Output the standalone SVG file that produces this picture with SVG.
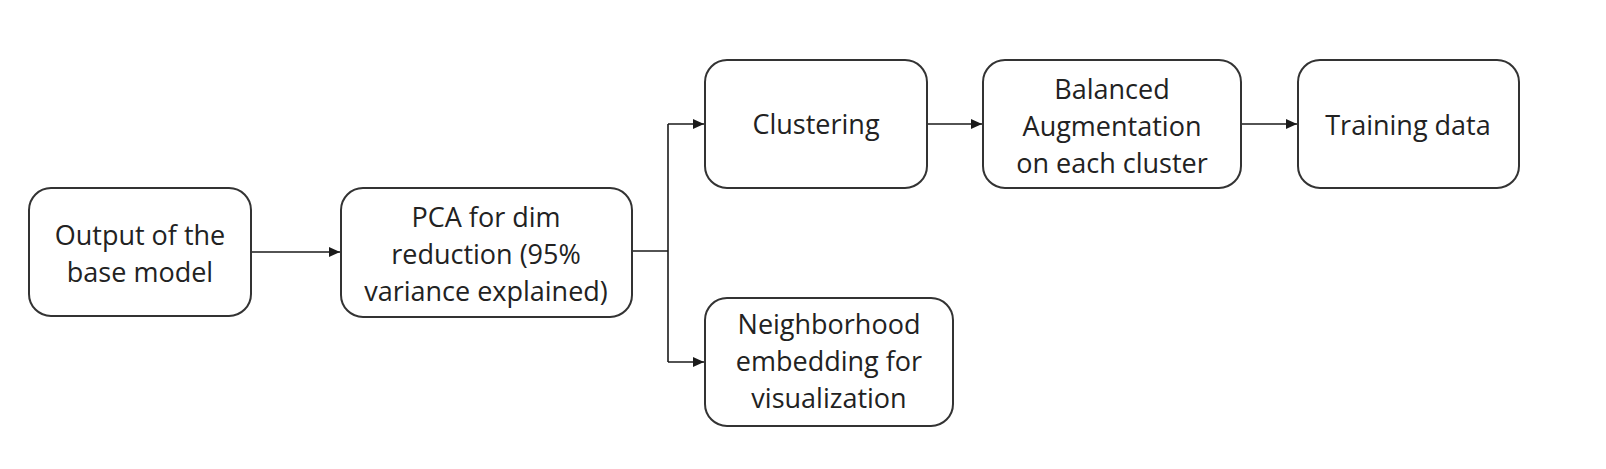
<svg xmlns="http://www.w3.org/2000/svg" width="1606" height="469" viewBox="0 0 1606 469">
<defs>
<marker id="arr" markerWidth="12" markerHeight="10" refX="11" refY="5" orient="auto" markerUnits="userSpaceOnUse">
<path d="M0,0 L11,5 L0,10 Z" fill="#1a1a1a"/>
</marker>
<style>
.box{fill:#fff;stroke:#333;stroke-width:2}
.t{font-family:"Open Sans","Noto Sans",sans-serif;font-size:27px;fill:#222;text-anchor:middle}
.c{fill:none;stroke:#1a1a1a;stroke-width:1.6}
</style>
</defs>
<rect width="1606" height="469" fill="#fff"/>
<g id="connectors">
<line class="c" x1="252" y1="252" x2="340" y2="252" marker-end="url(#arr)"/>
<line class="c" x1="632" y1="251" x2="668" y2="251"/>
<polyline class="c" points="668,124 668,362"/>
<line class="c" x1="668" y1="124" x2="704" y2="124" marker-end="url(#arr)"/>
<line class="c" x1="668" y1="362" x2="704" y2="362" marker-end="url(#arr)"/>
<line class="c" x1="927" y1="124" x2="982" y2="124" marker-end="url(#arr)"/>
<line class="c" x1="1241" y1="124" x2="1297" y2="124" marker-end="url(#arr)"/>
</g>
<g id="n1">
<rect class="box" x="29" y="188" width="222" height="128" rx="22"/>
<text class="t" x="140" y="245">Output of the</text>
<text class="t" x="140" y="282">base model</text>
</g>
<g id="n2">
<rect class="box" x="341" y="188" width="291" height="129" rx="22"/>
<text class="t" x="486" y="227">PCA for dim</text>
<text class="t" x="486" y="264">reduction (95%</text>
<text class="t" x="486" y="301">variance explained)</text>
</g>
<g id="n3">
<rect class="box" x="705" y="60" width="222" height="128" rx="22"/>
<text class="t" x="816" y="134">Clustering</text>
</g>
<g id="n4">
<rect class="box" x="983" y="60" width="258" height="128" rx="22"/>
<text class="t" x="1112" y="99">Balanced</text>
<text class="t" x="1112" y="136">Augmentation</text>
<text class="t" x="1112" y="173">on each cluster</text>
</g>
<g id="n5">
<rect class="box" x="1298" y="60" width="221" height="128" rx="22"/>
<text class="t" x="1408" y="135">Training data</text>
</g>
<g id="n6">
<rect class="box" x="705" y="298" width="248" height="128" rx="22"/>
<text class="t" x="829" y="334">Neighborhood</text>
<text class="t" x="829" y="371">embedding for</text>
<text class="t" x="829" y="408">visualization</text>
</g>
</svg>
